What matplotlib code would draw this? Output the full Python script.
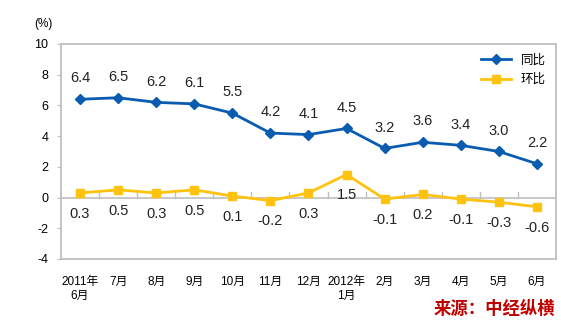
import numpy as np
import matplotlib
matplotlib.use('Agg')
import matplotlib.pyplot as plt

plt.rcParams['font.family'] = ['Liberation Sans', 'Noto Sans CJK SC', 'DejaVu Sans']
plt.rcParams['axes.unicode_minus'] = False

# data
months = ['2011年\n6月', '7月', '8月', '9月', '10月', '11月', '12月',
          '2012年\n1月', '2月', '3月', '4月', '5月', '6月']
yoy = [6.4, 6.5, 6.2, 6.1, 5.5, 4.2, 4.1, 4.5, 3.2, 3.6, 3.4, 3.0, 2.2]
mom = [0.3, 0.5, 0.3, 0.5, 0.1, -0.2, 0.3, 1.5, -0.1, 0.2, -0.1, -0.3, -0.6]

blue = '#0A5CB0'
yellow = '#FFC20E'
gray = '#BFBFBF'

fig = plt.figure(figsize=(5.61, 3.22), dpi=100)
ax = fig.add_axes([0.1087, 0.1957, 0.8823, 0.6677])

x = np.arange(len(months))
ax.plot(x, yoy, color=blue, lw=2, marker='D', ms=5.5, label='同比')
ax.plot(x, mom, color=yellow, lw=2, marker='s', ms=5.5, label='环比')

for i in range(len(x)):
    ax.annotate(f'{yoy[i]:.1f}', (x[i], yoy[i]), xytext=(0, 15),
                textcoords='offset points', ha='center', va='center',
                fontsize=10.5, color='#222222')
    ax.annotate(f'{mom[i]:.1f}', (x[i], mom[i]), xytext=(0, -15),
                textcoords='offset points', ha='center', va='center',
                fontsize=10.5, color='#222222')

# zero line with category ticks
ax.axhline(0, color=gray, lw=1.2, zorder=1)
for b in x[:-1] + 0.5:
    ax.plot([b, b], [0, 0.35], color=gray, lw=1, zorder=1)

ax.set_xlim(-0.5, len(months) - 0.5)
ax.set_ylim(-4, 10)
ax.set_yticks(range(-4, 11, 2))
ax.set_xticks(x)
ax.set_xticklabels(months, fontsize=8.5)
ax.tick_params(axis='x', length=0, pad=12)
ax.tick_params(axis='y', length=3, color=gray, labelsize=9, pad=6)
for s in ax.spines.values():
    s.set_color(gray)
    s.set_linewidth(1.3)

ax.text(-0.036, 1.093, '(%)', transform=ax.transAxes, ha='center', va='center', fontsize=8.5)

ax.legend(loc='upper right', frameon=False, fontsize=9, handlelength=2.4,
          borderaxespad=0.4, labelspacing=0.6)

fig.text(0.99, 0.04, '来源：中经纵横', color='#C00000', fontsize=12.5, fontweight='bold',
         style='italic', ha='right', va='center', family=['Noto Sans CJK SC'])

fig.savefig('out.png', dpi=100)
